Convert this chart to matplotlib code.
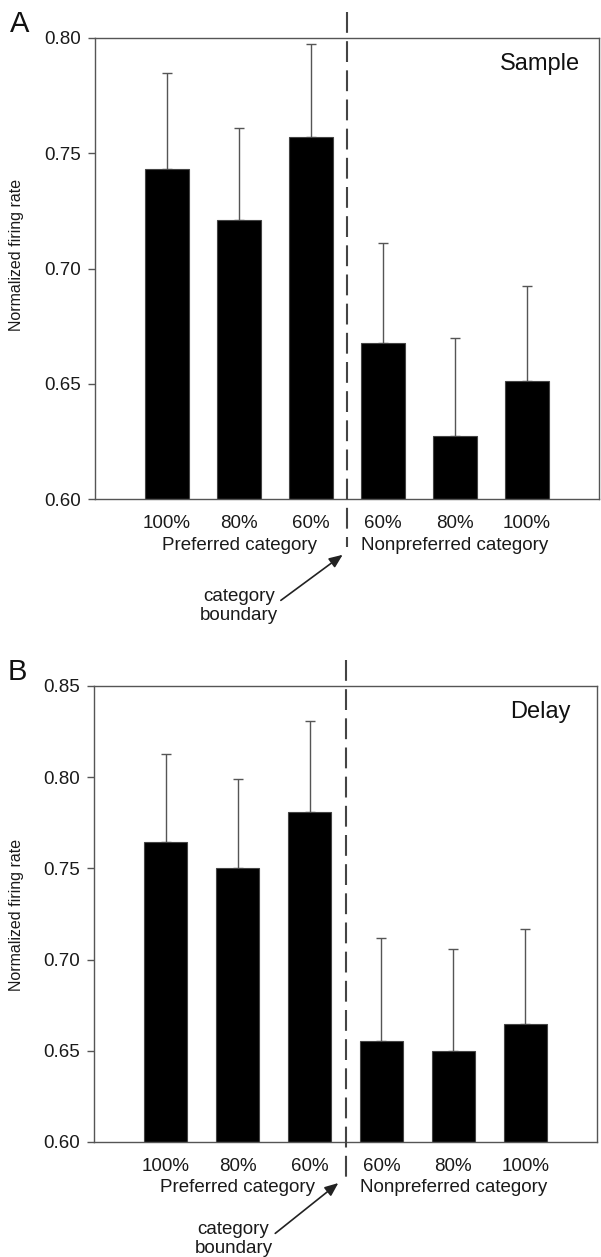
import matplotlib as mpl
mpl.use('Agg')
import matplotlib.pyplot as plt
from matplotlib.lines import Line2D
import numpy as np

plt.rcParams['font.family'] = ['Liberation Sans', 'DejaVu Sans']

# data
pct_labels = ['100%', '80%', '60%', '60%', '80%', '100%']
group_labels = ['Preferred category', 'Nonpreferred category']

sample_mean = [0.743, 0.721, 0.757, 0.6675, 0.6275, 0.651]
sample_top = [0.785, 0.761, 0.7975, 0.711, 0.670, 0.6925]   # top of error bar

delay_mean = [0.7645, 0.750, 0.781, 0.6555, 0.650, 0.6645]
delay_top = [0.8125, 0.799, 0.831, 0.712, 0.706, 0.717]

sample_yticks = [0.60, 0.65, 0.70, 0.75, 0.80]
delay_yticks = [0.60, 0.65, 0.70, 0.75, 0.80, 0.85]

spine_col = '#555555'
txt_col = '#1a1a1a'
fig = plt.figure(figsize=(6.01, 12.57), dpi=100)


def panel(rect, means, tops, yticks, title, title_x, letter, letter_xy, dash_ylim,
          arrow_head, arrow_text):
    ax = fig.add_axes(rect)
    x = np.arange(1, len(means) + 1)
    means = np.array(means)
    err = np.array(tops) - means
    ax.bar(x, means - yticks[0], bottom=yticks[0], width=0.6, color='black',
           edgecolor='#444444', linewidth=0.8, zorder=2)
    ax.errorbar(x, means, yerr=[np.zeros_like(err), err], fmt='none',
                ecolor=spine_col, elinewidth=1.0, capsize=3.5, capthick=1.0, zorder=1)
    ax.set_xlim(0, 7)
    ax.set_ylim(yticks[0], yticks[-1])
    ax.set_yticks(yticks)
    ax.set_yticklabels(['%.2f' % v for v in yticks])
    ax.set_xticks(x)
    ax.set_xticklabels(pct_labels)
    ax.tick_params(axis='x', length=0, pad=11.5, labelsize=13.5, colors=txt_col)
    ax.tick_params(axis='y', length=5, width=1, color=spine_col, pad=5,
                   labelsize=13.5, labelcolor=txt_col)
    for s in ax.spines.values():
        s.set_edgecolor(spine_col)
        s.set_linewidth(1.0)

    tr = ax.get_xaxis_transform()
    ax.text(2, -0.10, group_labels[0], transform=tr, ha='center', va='center',
            fontsize=13.5, color=txt_col)
    ax.text(5, -0.10, group_labels[1], transform=tr, ha='center', va='center',
            fontsize=13.5, color=txt_col)

    # category boundary line
    ax.add_line(Line2D([3.5, 3.5], dash_ylim, transform=tr, color='#444444',
                       lw=1.5, linestyle=(0, (10, 4)), clip_on=False, zorder=3))

    ax.annotate('category\nboundary', xy=arrow_head, xycoords=tr,
                xytext=arrow_text, textcoords=tr, ha='center', va='center',
                fontsize=13.5, color=txt_col, linespacing=1.1,
                arrowprops=dict(arrowstyle='-|>,head_length=0.6,head_width=0.25',
                                color='#222222', lw=1.2, shrinkA=0, shrinkB=0,
                                relpos=(1.0, 0.6)))

    ax.text(title_x, 0.943, title, transform=ax.transAxes, ha='right', va='center',
            fontsize=17, color='#111111')
    fig.text(letter_xy[0], letter_xy[1], letter, ha='center', va='center',
             fontsize=21, color='#111111')
    return ax


axA = panel([95 / 601, 1 - 499 / 1257, 504 / 601, 461 / 1257],
            sample_mean, sample_top, sample_yticks, 'Sample', 0.962, 'A',
            (20 / 601, 1 - 24 / 1257), (1.056, -0.104),
            (3.44, -0.121), (2.0, -0.232))
axB = panel([94 / 601, 1 - 1142 / 1257, 503 / 601, 456 / 1257],
            delay_mean, delay_top, delay_yticks, 'Delay', 0.948, 'B',
            (17 / 601, 1 - 672 / 1257), (1.057, -0.09),
            (3.40, -0.09), (1.94, -0.213))

# y-axis titles
fig.text(17 / 601, 1 - 255 / 1257, 'Normalized firing rate', rotation=90,
         ha='center', va='center', fontsize=11.5, color=txt_col)
fig.text(17 / 601, 1 - 915 / 1257, 'Normalized firing rate', rotation=90,
         ha='center', va='center', fontsize=11.5, color=txt_col)

plt.savefig('out.png', dpi=100)
